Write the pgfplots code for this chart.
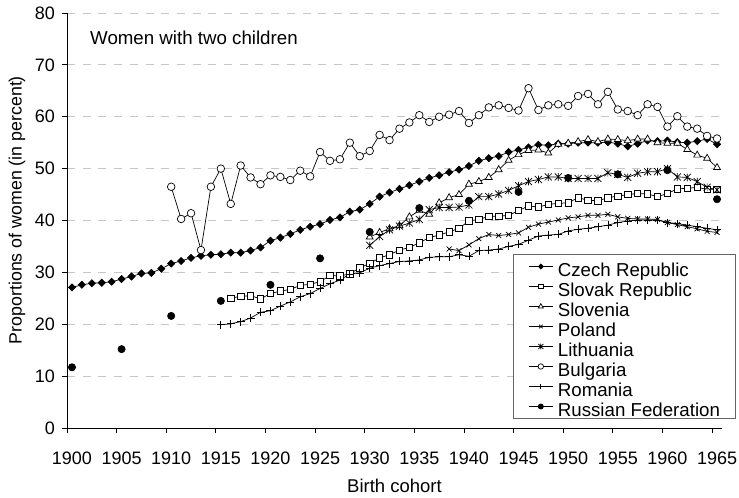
\documentclass[border=0pt]{standalone}
\usepackage{fontspec}
\setmainfont{Liberation Sans}
\usepackage{pgfplots}
\pgfplotsset{compat=1.18}
\usetikzlibrary{plotmarks}
\pgfdeclareplotmark{xstar}{%
 \pgfpathmoveto{\pgfqpoint{-\pgfplotmarksize}{-\pgfplotmarksize}}%
 \pgfpathlineto{\pgfqpoint{\pgfplotmarksize}{\pgfplotmarksize}}%
 \pgfpathmoveto{\pgfqpoint{-\pgfplotmarksize}{\pgfplotmarksize}}%
 \pgfpathlineto{\pgfqpoint{\pgfplotmarksize}{-\pgfplotmarksize}}%
 \pgfpathmoveto{\pgfqpoint{0pt}{-1.1\pgfplotmarksize}}%
 \pgfpathlineto{\pgfqpoint{0pt}{1.1\pgfplotmarksize}}%
 \pgfusepathqstroke}
\begin{document}
\begin{tikzpicture}
\begin{axis}[name=ax, at={(0,0)}, anchor=south west, scale only axis,
 width=655pt, height=415pt,
 xmin=1899.5, xmax=1965.5, ymin=0, ymax=80,
 axis x line*=bottom, axis y line*=left,
 axis line style={-, black, line width=0.8pt},
 xtick={1899.5,1904.5,1909.5,1914.5,1919.5,1924.5,1929.5,1934.5,1939.5,1944.5,1949.5,1954.5,1959.5,1964.5},
 xticklabels={1900,1905,1910,1915,1920,1925,1930,1935,1940,1945,1950,1955,1960,1965},
 xticklabel style={xshift=4.96pt, yshift=-14.5pt},
 ytick={0,10,...,80},
 yticklabel={\pgfmathprintnumber[assume math mode=true]{\tick}},
 yticklabel style={xshift=-3pt},
 tick align=outside, major tick length=5.5pt,
 tick style={black, line width=0.8pt},
 ymajorgrids, grid style={draw=black!22, dash pattern=on 8pt off 7.7pt, line width=0.8pt},
 ticklabel style={font=\fontsize{18}{21.6}\selectfont},
 xlabel={Birth cohort},
 xlabel style={at={(axis description cs:0.5,-0.1566)}, anchor=base, font=\fontsize{18.5}{22}\selectfont},
 ylabel={Proportions of women (in percent)},
 ylabel style={at={(axis description cs:-0.0692,0.525)}, anchor=base, font=\fontsize{17.8}{21}\selectfont},
 unbounded coords=jump,
 every axis plot/.append style={line width=0.7pt, black},
 legend image code/.code={\draw[mark repeat=2,mark phase=2,#1,every mark/.append style={scale=0.72}] plot coordinates {(0pt,0pt) (12pt,0pt) (24pt,0pt)};},
 legend cell align=left,
 legend style={at={(0.681,0.419)}, anchor=north west, draw=black!60, line width=0.8pt, fill=white,
   inner xsep=15pt, inner ysep=2pt, font=\fontsize{18.7}{20}\selectfont,
   nodes={inner sep=0pt, text height=20pt, text depth=0pt}, row sep=0pt,
   /tikz/every odd column/.append style={column sep=4.7pt}},
]
% Czech Republic
\addplot[mark=square*, mark size=2.5pt, mark options={rotate=45, fill=black}] coordinates {
(1900,27.1)(1901,27.6)(1902,27.9)(1903,28.0)(1904,28.2)(1905,28.7)(1906,29.2)(1907,29.8)(1908,29.9)(1909,30.7)
(1910,31.7)(1911,32.2)(1912,32.8)(1913,33.2)(1914,33.4)(1915,33.5)(1916,33.8)(1917,33.8)(1918,34.2)(1919,34.8)
(1920,36.1)(1921,36.7)(1922,37.4)(1923,38.2)(1924,38.8)(1925,39.3)(1926,40.1)(1927,40.6)(1928,41.7)(1929,42.1)
(1930,43.2)(1931,44.6)(1932,45.4)(1933,46.1)(1934,46.8)(1935,47.5)(1936,48.2)(1937,48.7)(1938,49.3)(1939,49.8)
(1940,50.5)(1941,51.5)(1942,52.0)(1943,52.4)(1944,53.2)(1945,53.6)(1946,54.1)(1947,54.6)(1948,54.5)(1949,54.8)
(1950,54.8)(1951,55.0)(1952,55.0)(1953,55.0)(1954,55.1)(1955,54.8)(1956,54.3)(1957,54.8)(1958,55.4)(1959,55.3)
(1960,55.4)(1961,55.1)(1962,55.0)(1963,55.3)(1964,55.7)(1965,54.7)};
\addlegendentry{Czech Republic}
% Slovak Republic
\addplot[mark=square*, mark size=3.2pt, mark options={fill=white}] coordinates {
(1916,25.0)(1917,25.4)(1918,25.5)(1919,24.9)(1920,25.9)(1921,26.4)(1922,26.7)(1923,27.5)(1924,27.7)(1925,28.2)
(1926,29.4)(1927,29.3)(1928,29.7)(1929,30.9)(1930,31.7)(1931,32.8)(1932,33.4)(1933,34.3)(1934,34.8)(1935,35.7)
(1936,36.7)(1937,37.2)(1938,37.8)(1939,38.5)(1940,39.9)(1941,40.2)(1942,40.8)(1943,40.8)(1944,41.0)(1945,41.9)
(1946,42.8)(1947,42.6)(1948,43.1)(1949,43.3)(1950,43.4)(1951,44.4)(1952,43.9)(1953,43.8)(1954,44.4)(1955,44.7)
(1956,45.0)(1957,45.2)(1958,45.1)(1959,44.6)(1960,45.2)(1961,46.1)(1962,46.2)(1963,46.4)(1964,46.0)(1965,46.0)};
\addlegendentry{Slovak Republic}
% Slovenia
\addplot[mark=triangle*, mark size=4pt, mark options={fill=white}] coordinates {
(1930,36.8)(1931,37.7)(1932,38.4)(1933,39.0)(1934,40.7)(1935,41.9)(1936,41.2)(1937,43.4)(1938,44.4)(1939,45.0)
(1940,47.0)(1941,47.5)(1942,48.3)(1943,49.8)(1944,51.6)(1945,52.7)(1946,53.5)(1947,53.6)(1948,53.0)(1949,54.7)
(1950,54.9)(1951,55.2)(1952,55.6)(1953,55.2)(1954,55.7)(1955,55.6)(1956,55.4)(1957,55.7)(1958,55.7)(1959,55.0)
(1960,54.9)(1961,54.9)(1962,53.7)(1963,52.6)(1964,52.0)(1965,50.2)};
\addlegendentry{Slovenia}
% Poland
\addplot[mark=x, mark size=3.5pt] coordinates {
(1938,34.5)(1939,34.2)(1940,35.3)(1941,36.5)(1942,37.3)(1943,37.1)(1944,37.3)(1945,37.6)(1946,38.7)(1947,39.3)
(1948,39.7)(1949,40.1)(1950,40.5)(1951,40.7)(1952,41.0)(1953,41.0)(1954,41.2)(1955,40.7)(1956,40.4)(1957,40.3)
(1958,40.3)(1959,40.2)(1960,39.6)(1961,39.2)(1962,38.8)(1963,38.4)(1964,37.9)(1965,37.7)};
\addlegendentry{Poland}
% Lithuania
\addplot[mark=xstar, mark size=3.5pt] coordinates {
(1930,35.2)(1931,36.9)(1932,38.2)(1933,38.9)(1934,39.5)(1935,40.2)(1936,42.1)(1937,42.5)(1938,42.5)(1939,42.6)
(1940,43.0)(1941,44.6)(1942,44.6)(1943,45.1)(1944,45.8)(1945,46.7)(1946,47.5)(1947,47.9)(1948,48.4)(1949,48.4)
(1950,48.1)(1951,48.1)(1952,48.1)(1953,48.1)(1954,49.2)(1955,48.9)(1956,48.3)(1957,49.1)(1958,49.4)(1959,49.4)
(1960,50.0)(1961,48.4)(1962,48.3)(1963,47.5)(1964,46.4)(1965,45.9)};
\addlegendentry{Lithuania}
% Bulgaria
\addplot[mark=*, mark size=3.8pt, mark options={fill=white}] coordinates {
(1910,46.5)(1911,40.3)(1912,41.4)(1913,34.3)(1914,46.5)(1915,50.0)(1916,43.2)(1917,50.6)(1918,48.3)(1919,47.0)
(1920,48.7)(1921,48.4)(1922,47.8)(1923,49.6)(1924,48.5)(1925,53.2)(1926,51.5)(1927,51.8)(1928,55.0)(1929,52.4)
(1930,53.4)(1931,56.5)(1932,55.5)(1933,57.7)(1934,58.9)(1935,60.3)(1936,59.0)(1937,60.0)(1938,60.4)(1939,61.1)
(1940,58.8)(1941,60.3)(1942,61.8)(1943,62.2)(1944,61.7)(1945,61.2)(1946,65.5)(1947,61.3)(1948,62.2)(1949,62.4)
(1950,62.1)(1951,64.0)(1952,64.4)(1953,62.4)(1954,64.8)(1955,61.4)(1956,61.1)(1957,60.3)(1958,62.4)(1959,61.9)
(1960,58.1)(1961,60.1)(1962,58.1)(1963,57.7)(1964,56.3)(1965,55.8)};
\addlegendentry{Bulgaria}
% Romania
\addplot[mark=+, mark size=4pt] coordinates {
(1915,19.9)(1916,20.1)(1917,20.5)(1918,21.2)(1919,22.3)(1920,22.6)(1921,23.5)(1922,24.3)(1923,25.3)(1924,25.9)
(1925,26.9)(1926,27.8)(1927,28.5)(1928,29.7)(1929,29.9)(1930,30.8)(1931,31.3)(1932,31.7)(1933,32.1)(1934,32.2)
(1935,32.4)(1936,32.9)(1937,33.0)(1938,33.0)(1939,33.4)(1940,33.1)(1941,34.2)(1942,34.3)(1943,34.5)(1944,35.0)
(1945,35.4)(1946,36.2)(1947,37.0)(1948,37.2)(1949,37.3)(1950,38.0)(1951,38.3)(1952,38.5)(1953,38.8)(1954,39.1)
(1955,39.6)(1956,39.9)(1957,40.1)(1958,40.1)(1959,40.1)(1960,39.6)(1961,39.4)(1962,39.1)(1963,38.8)(1964,38.5)
(1965,38.2)};
\addlegendentry{Romania}
% Russian Federation
\addplot[mark=*, mark size=3.6pt, mark options={fill=black}] coordinates {
(1900,11.7)(1901,nan)(1905,15.2)(1906,nan)(1910,21.6)(1911,nan)(1915,24.5)(1916,nan)(1920,27.6)(1921,nan)
(1925,32.7)(1926,nan)(1930,37.8)(1931,nan)(1935,42.4)(1936,nan)(1940,43.8)(1941,nan)(1945,45.5)(1946,nan)
(1950,48.2)(1951,nan)(1955,48.9)(1956,nan)(1960,49.7)(1961,nan)(1965,44.1)};
\addlegendentry{Russian Federation}
\node[anchor=base west, inner sep=0pt, font=\fontsize{18.7}{22}\selectfont] at (rel axis cs:0.0351,0.9229) {Women with two children};
\end{axis}
\pgfresetboundingbox
\path[use as bounding box] ([shift={(-67pt,-70pt)}]ax.south west) rectangle ([shift={(17pt,13pt)}]ax.north east);
\end{tikzpicture}
\end{document}
